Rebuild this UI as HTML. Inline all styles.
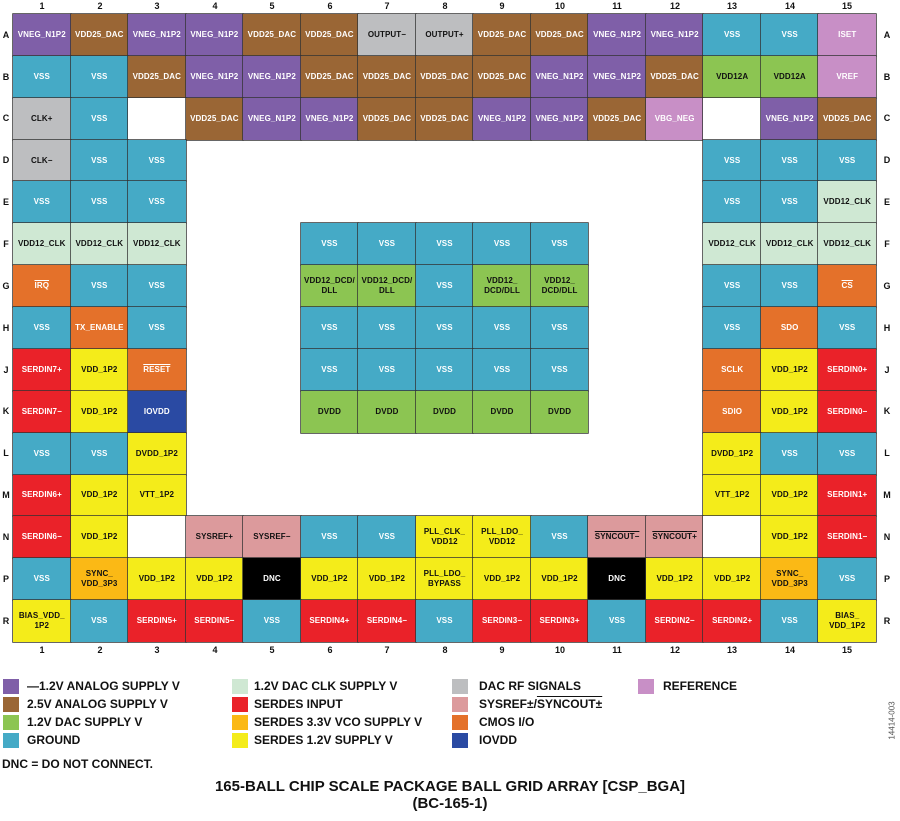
<!DOCTYPE html>
<html><head><meta charset="utf-8"><style>
*{margin:0;padding:0;box-sizing:border-box}
body{width:900px;height:821px;background:#fff;position:relative;overflow:hidden;font-family:"Liberation Sans",Arial,sans-serif;font-weight:bold;color:#111}
#g{position:absolute;left:13px;top:14px;width:863px;height:628px;display:grid;grid-template-columns:repeat(15,1fr);grid-template-rows:repeat(15,1fr)}
#g div{box-shadow:0 0 0 0.75px #333;display:flex;align-items:center;justify-content:center;text-align:center;font-size:8px;line-height:10px;color:#fff;letter-spacing:0.1px}
#g div.n{box-shadow:none;background:transparent}
.p{background:#7f5fa8}.b{background:#9a6635}.c{background:#45aac6}
#g .g{background:#bdbec0;color:#111}#g .e{background:#8cc552;color:#111}#g .l{background:#cfe8d3;color:#111}
.r{background:#ea2229}#g .o{background:#fbb915;color:#111}#g .y{background:#f4ec1a;color:#111}
.m{background:#e4712a}.d{background:#2a4aa3}#g .k{background:#dc9a9c;color:#111}.f{background:#c88fc6}
.x{background:#000}.w{background:#fff}
.ol{text-decoration:overline}
.cl{position:absolute;font-size:9px;width:20px;text-align:center}
.rl{position:absolute;font-size:9px;width:12px;text-align:center}
.lg{position:absolute;font-size:12px;white-space:nowrap}
.sq{position:absolute;width:16px;height:15px}
</style></head><body>
<div id="g">
<div class="p">VNEG_N1P2</div><div class="b">VDD25_DAC</div><div class="p">VNEG_N1P2</div><div class="p">VNEG_N1P2</div><div class="b">VDD25_DAC</div><div class="b">VDD25_DAC</div><div class="g">OUTPUT−</div><div class="g">OUTPUT+</div><div class="b">VDD25_DAC</div><div class="b">VDD25_DAC</div><div class="p">VNEG_N1P2</div><div class="p">VNEG_N1P2</div><div class="c">VSS</div><div class="c">VSS</div><div class="f">ISET</div>
<div class="c">VSS</div><div class="c">VSS</div><div class="b">VDD25_DAC</div><div class="p">VNEG_N1P2</div><div class="p">VNEG_N1P2</div><div class="b">VDD25_DAC</div><div class="b">VDD25_DAC</div><div class="b">VDD25_DAC</div><div class="b">VDD25_DAC</div><div class="p">VNEG_N1P2</div><div class="p">VNEG_N1P2</div><div class="b">VDD25_DAC</div><div class="e">VDD12A</div><div class="e">VDD12A</div><div class="f">VREF</div>
<div class="g">CLK+</div><div class="c">VSS</div><div class="w"></div><div class="b">VDD25_DAC</div><div class="p">VNEG_N1P2</div><div class="p">VNEG_N1P2</div><div class="b">VDD25_DAC</div><div class="b">VDD25_DAC</div><div class="p">VNEG_N1P2</div><div class="p">VNEG_N1P2</div><div class="b">VDD25_DAC</div><div class="f">VBG_NEG</div><div class="w"></div><div class="p">VNEG_N1P2</div><div class="b">VDD25_DAC</div>
<div class="g">CLK−</div><div class="c">VSS</div><div class="c">VSS</div><div class="n"></div><div class="n"></div><div class="n"></div><div class="n"></div><div class="n"></div><div class="n"></div><div class="n"></div><div class="n"></div><div class="n"></div><div class="c">VSS</div><div class="c">VSS</div><div class="c">VSS</div>
<div class="c">VSS</div><div class="c">VSS</div><div class="c">VSS</div><div class="n"></div><div class="n"></div><div class="n"></div><div class="n"></div><div class="n"></div><div class="n"></div><div class="n"></div><div class="n"></div><div class="n"></div><div class="c">VSS</div><div class="c">VSS</div><div class="l">VDD12_CLK</div>
<div class="l">VDD12_CLK</div><div class="l">VDD12_CLK</div><div class="l">VDD12_CLK</div><div class="n"></div><div class="n"></div><div class="c">VSS</div><div class="c">VSS</div><div class="c">VSS</div><div class="c">VSS</div><div class="c">VSS</div><div class="n"></div><div class="n"></div><div class="l">VDD12_CLK</div><div class="l">VDD12_CLK</div><div class="l">VDD12_CLK</div>
<div class="m"><span class="ol">IRQ</span></div><div class="c">VSS</div><div class="c">VSS</div><div class="n"></div><div class="n"></div><div class="e">VDD12_DCD/<br>DLL</div><div class="e">VDD12_DCD/<br>DLL</div><div class="c">VSS</div><div class="e">VDD12_<br>DCD/DLL</div><div class="e">VDD12_<br>DCD/DLL</div><div class="n"></div><div class="n"></div><div class="c">VSS</div><div class="c">VSS</div><div class="m"><span class="ol">CS</span></div>
<div class="c">VSS</div><div class="m">TX_ENABLE</div><div class="c">VSS</div><div class="n"></div><div class="n"></div><div class="c">VSS</div><div class="c">VSS</div><div class="c">VSS</div><div class="c">VSS</div><div class="c">VSS</div><div class="n"></div><div class="n"></div><div class="c">VSS</div><div class="m">SDO</div><div class="c">VSS</div>
<div class="r">SERDIN7+</div><div class="y">VDD_1P2</div><div class="m"><span class="ol">RESET</span></div><div class="n"></div><div class="n"></div><div class="c">VSS</div><div class="c">VSS</div><div class="c">VSS</div><div class="c">VSS</div><div class="c">VSS</div><div class="n"></div><div class="n"></div><div class="m">SCLK</div><div class="y">VDD_1P2</div><div class="r">SERDIN0+</div>
<div class="r">SERDIN7−</div><div class="y">VDD_1P2</div><div class="d">IOVDD</div><div class="n"></div><div class="n"></div><div class="e">DVDD</div><div class="e">DVDD</div><div class="e">DVDD</div><div class="e">DVDD</div><div class="e">DVDD</div><div class="n"></div><div class="n"></div><div class="m">SDIO</div><div class="y">VDD_1P2</div><div class="r">SERDIN0−</div>
<div class="c">VSS</div><div class="c">VSS</div><div class="y">DVDD_1P2</div><div class="n"></div><div class="n"></div><div class="n"></div><div class="n"></div><div class="n"></div><div class="n"></div><div class="n"></div><div class="n"></div><div class="n"></div><div class="y">DVDD_1P2</div><div class="c">VSS</div><div class="c">VSS</div>
<div class="r">SERDIN6+</div><div class="y">VDD_1P2</div><div class="y">VTT_1P2</div><div class="n"></div><div class="n"></div><div class="n"></div><div class="n"></div><div class="n"></div><div class="n"></div><div class="n"></div><div class="n"></div><div class="n"></div><div class="y">VTT_1P2</div><div class="y">VDD_1P2</div><div class="r">SERDIN1+</div>
<div class="r">SERDIN6−</div><div class="y">VDD_1P2</div><div class="w"></div><div class="k">SYSREF+</div><div class="k">SYSREF−</div><div class="c">VSS</div><div class="c">VSS</div><div class="y">PLL_CLK_<br>VDD12</div><div class="y">PLL_LDO_<br>VDD12</div><div class="c">VSS</div><div class="k"><span class="ol">SYNCOUT−</span></div><div class="k"><span class="ol">SYNCOUT+</span></div><div class="w"></div><div class="y">VDD_1P2</div><div class="r">SERDIN1−</div>
<div class="c">VSS</div><div class="o">SYNC_<br>VDD_3P3</div><div class="y">VDD_1P2</div><div class="y">VDD_1P2</div><div class="x">DNC</div><div class="y">VDD_1P2</div><div class="y">VDD_1P2</div><div class="y">PLL_LDO_<br>BYPASS</div><div class="y">VDD_1P2</div><div class="y">VDD_1P2</div><div class="x">DNC</div><div class="y">VDD_1P2</div><div class="y">VDD_1P2</div><div class="o">SYNC_<br>VDD_3P3</div><div class="c">VSS</div>
<div class="y">BIAS_VDD_<br>1P2</div><div class="c">VSS</div><div class="r">SERDIN5+</div><div class="r">SERDIN5−</div><div class="c">VSS</div><div class="r">SERDIN4+</div><div class="r">SERDIN4−</div><div class="c">VSS</div><div class="r">SERDIN3−</div><div class="r">SERDIN3+</div><div class="c">VSS</div><div class="r">SERDIN2−</div><div class="r">SERDIN2+</div><div class="c">VSS</div><div class="y">BIAS_<br>VDD_1P2</div>
</div>

<div class="cl" style="left:32px;top:1px">1</div><div class="cl" style="left:90px;top:1px">2</div><div class="cl" style="left:147px;top:1px">3</div><div class="cl" style="left:205px;top:1px">4</div><div class="cl" style="left:262px;top:1px">5</div><div class="cl" style="left:320px;top:1px">6</div><div class="cl" style="left:377px;top:1px">7</div><div class="cl" style="left:435px;top:1px">8</div><div class="cl" style="left:492px;top:1px">9</div><div class="cl" style="left:550px;top:1px">10</div><div class="cl" style="left:607px;top:1px">11</div><div class="cl" style="left:665px;top:1px">12</div><div class="cl" style="left:722px;top:1px">13</div><div class="cl" style="left:780px;top:1px">14</div><div class="cl" style="left:837px;top:1px">15</div>
<div class="cl" style="left:32px;top:645px">1</div><div class="cl" style="left:90px;top:645px">2</div><div class="cl" style="left:147px;top:645px">3</div><div class="cl" style="left:205px;top:645px">4</div><div class="cl" style="left:262px;top:645px">5</div><div class="cl" style="left:320px;top:645px">6</div><div class="cl" style="left:377px;top:645px">7</div><div class="cl" style="left:435px;top:645px">8</div><div class="cl" style="left:492px;top:645px">9</div><div class="cl" style="left:550px;top:645px">10</div><div class="cl" style="left:607px;top:645px">11</div><div class="cl" style="left:665px;top:645px">12</div><div class="cl" style="left:722px;top:645px">13</div><div class="cl" style="left:780px;top:645px">14</div><div class="cl" style="left:837px;top:645px">15</div>

<div class="rl" style="left:0;top:30px">A</div><div class="rl" style="left:0;top:72px">B</div><div class="rl" style="left:0;top:113px">C</div><div class="rl" style="left:0;top:155px">D</div><div class="rl" style="left:0;top:197px">E</div><div class="rl" style="left:0;top:239px">F</div><div class="rl" style="left:0;top:281px">G</div><div class="rl" style="left:0;top:323px">H</div><div class="rl" style="left:0;top:365px">J</div><div class="rl" style="left:0;top:406px">K</div><div class="rl" style="left:0;top:448px">L</div><div class="rl" style="left:0;top:490px">M</div><div class="rl" style="left:0;top:532px">N</div><div class="rl" style="left:0;top:574px">P</div><div class="rl" style="left:0;top:616px">R</div>
<div class="rl" style="left:881px;top:30px">A</div><div class="rl" style="left:881px;top:72px">B</div><div class="rl" style="left:881px;top:113px">C</div><div class="rl" style="left:881px;top:155px">D</div><div class="rl" style="left:881px;top:197px">E</div><div class="rl" style="left:881px;top:239px">F</div><div class="rl" style="left:881px;top:281px">G</div><div class="rl" style="left:881px;top:323px">H</div><div class="rl" style="left:881px;top:365px">J</div><div class="rl" style="left:881px;top:406px">K</div><div class="rl" style="left:881px;top:448px">L</div><div class="rl" style="left:881px;top:490px">M</div><div class="rl" style="left:881px;top:532px">N</div><div class="rl" style="left:881px;top:574px">P</div><div class="rl" style="left:881px;top:616px">R</div>

<div class="sq" style="left:3px;top:679px;background:#7f5fa8"></div><div class="lg" style="left:27px;top:679px">—1.2V ANALOG SUPPLY V</div>
<div class="sq" style="left:3px;top:697px;background:#9a6635"></div><div class="lg" style="left:27px;top:697px">2.5V ANALOG SUPPLY V</div>
<div class="sq" style="left:3px;top:715px;background:#8cc552"></div><div class="lg" style="left:27px;top:715px">1.2V DAC SUPPLY V</div>
<div class="sq" style="left:3px;top:733px;background:#45aac6"></div><div class="lg" style="left:27px;top:733px">GROUND</div>
<div class="sq" style="left:232px;top:679px;background:#cfe8d3"></div><div class="lg" style="left:254px;top:679px">1.2V DAC CLK SUPPLY V</div>
<div class="sq" style="left:232px;top:697px;background:#ea2229"></div><div class="lg" style="left:254px;top:697px">SERDES INPUT</div>
<div class="sq" style="left:232px;top:715px;background:#fbb915"></div><div class="lg" style="left:254px;top:715px">SERDES 3.3V VCO SUPPLY V</div>
<div class="sq" style="left:232px;top:733px;background:#f4ec1a"></div><div class="lg" style="left:254px;top:733px">SERDES 1.2V SUPPLY V</div>
<div class="sq" style="left:452px;top:679px;background:#bdbec0"></div><div class="lg" style="left:479px;top:679px">DAC RF SIGNALS</div>
<div class="sq" style="left:452px;top:697px;background:#dc9a9c"></div><div class="lg" style="left:479px;top:697px">SYSREF±/<span class="ol">SYNCOUT±</span></div>
<div class="sq" style="left:452px;top:715px;background:#e4712a"></div><div class="lg" style="left:479px;top:715px">CMOS I/O</div>
<div class="sq" style="left:452px;top:733px;background:#2a4aa3"></div><div class="lg" style="left:479px;top:733px">IOVDD</div>
<div class="sq" style="left:638px;top:679px;background:#c88fc6"></div><div class="lg" style="left:663px;top:679px">REFERENCE</div>
<div class="lg" style="left:2px;top:757px">DNC = DO NOT CONNECT.</div>
<div style="position:absolute;left:0;width:900px;top:778px;text-align:center;font-size:15px;line-height:17px">165-BALL CHIP SCALE PACKAGE BALL GRID ARRAY [CSP_BGA]<br>(BC-165-1)</div>
<div style="position:absolute;left:862px;top:716px;font-size:8px;font-weight:normal;color:#555;transform:rotate(-90deg);width:60px;text-align:center">14414-003</div>
</body></html>
